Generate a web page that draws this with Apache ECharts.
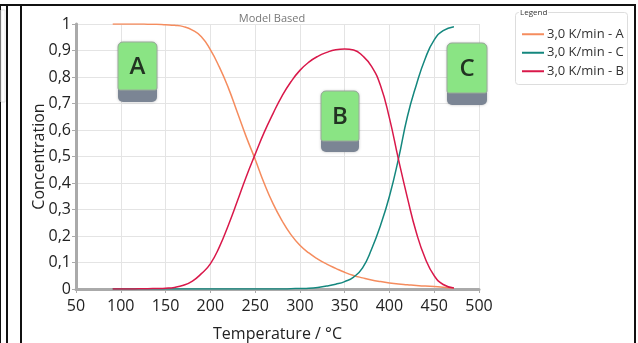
<!DOCTYPE html>
<html>
<head>
<meta charset="utf-8">
<script src="https://cdn.jsdelivr.net/npm/echarts@6/dist/echarts.min.js"></script>
<style>
html,body{margin:0;padding:0;background:#fff;}
#c{width:638px;height:343px;}
</style>
</head>
<body>
<div id="c"></div>
<script>
// Temperature (°C)
const temps = [91,100,110,120,130,140,150,160,170,180,190,200,210,220,230,240,250,260,270,280,290,300,310,320,330,340,350,360,370,380,390,400,410,420,430,440,450,460,472];
// Concentration of A
const concA = [1,1,1,1,0.9995,0.999,0.997,0.995,0.99,0.977,0.952,0.903,0.838,0.76,0.668,0.575,0.49,0.40,0.322,0.258,0.205,0.165,0.136,0.113,0.094,0.078,0.063,0.051,0.042,0.034,0.028,0.023,0.019,0.016,0.013,0.011,0.009,0.007,0.004];
// Concentration of B
const concB = [0,0,0,0.0005,0.001,0.002,0.003,0.006,0.014,0.03,0.058,0.095,0.158,0.24,0.33,0.423,0.508,0.59,0.662,0.728,0.782,0.825,0.856,0.878,0.893,0.903,0.906,0.902,0.88,0.84,0.768,0.645,0.49,0.345,0.213,0.115,0.05,0.017,0.004];
// Concentration of C
const concC = [0,0,0,0,0,0,0,0,0,0,0,0,0,0,0,0,0,0,0,0,0.001,0.002,0.003,0.006,0.011,0.018,0.028,0.045,0.08,0.15,0.24,0.35,0.49,0.65,0.77,0.87,0.94,0.975,0.99];
const seriesNames = ['3,0 K/min - A','3,0 K/min - C','3,0 K/min - B'];
const yTickLabels = ['0','0,1','0,2','0,3','0,4','0,5','0,6','0,7','0,8','0,9','1'];
const xTickLabels = ['50','100','150','200','250','300','350','400','450','500'];
const boxLabels = ['A','B','C'];

const pair = (ys) => temps.map((t,i)=>[t, ys[i]]);
const font = "'Open Sans', 'Noto Sans', sans-serif";

function markBox(x, y, w, h, band, letter){
  return {
    type:'group', x:x, y:y, z:100, children:[
      {type:'rect', z:100, shape:{x:0,y:0,width:w,height:h,r:5}, style:{fill:'#7b8594', shadowBlur:3, shadowColor:'rgba(0,0,0,0.25)'}},
      {type:'rect', z:101, shape:{x:0,y:0,width:w,height:band,r:[5,5,2,2]}, style:{fill:'#8ae484', stroke:'#9aaa9a', lineWidth:1}},
      {type:'text', z:102, x:w/2, y:band/2+1, style:{text:letter, fill:'#223322', font:"600 24px "+font, align:'center', verticalAlign:'middle'}}
    ]
  };
}

const chart = echarts.init(document.getElementById('c'), null, {renderer:'canvas'});
chart.setOption({
  animation:false,
  backgroundColor:'#fff',
  title:{text:'Model Based', left:267, top:8, textAlign:'center', textStyle:{fontFamily:font, fontSize:11, fontWeight:'normal', color:'#777'}},
  grid:{left:76, right:159, top:24, bottom:54, containLabel:false, outerBoundsMode:'none'},
  legend:{
    orient:'vertical', left:517, top:20, itemWidth:22, itemHeight:2, itemGap:0, icon:'rect',
    data:seriesNames,
    textStyle:{fontFamily:font, fontSize:13, color:'#333', lineHeight:18.5, padding:[0,0,0,-2]}
  },
  xAxis:{
    type:'value', min:50, max:500, interval:50,
    name:'Temperature / °C', nameLocation:'middle', nameGap:37, nameMoveOverlap:false,
    nameTextStyle:{fontFamily:font, fontSize:16, color:'#222'},
    axisLine:{show:true, lineStyle:{color:'#aaaaaa', width:3}},
    axisTick:{show:true, length:4, lineStyle:{color:'#aaaaaa'}},
    axisLabel:{fontFamily:font, fontSize:16, color:'#222', margin:9, formatter:(v)=>xTickLabels[Math.round((v-50)/50)]},
    splitLine:{show:true, lineStyle:{color:'#e4e4e4', width:1}}
  },
  yAxis:{
    type:'value', min:0, max:1, interval:0.1,
    name:'Concentration', nameLocation:'middle', nameGap:29, nameMoveOverlap:false,
    nameTextStyle:{fontFamily:font, fontSize:16, color:'#222'},
    axisLine:{show:true, lineStyle:{color:'#aaaaaa', width:3}},
    axisTick:{show:true, length:4, lineStyle:{color:'#aaaaaa'}},
    axisLabel:{fontFamily:font, fontSize:16, color:'#222', margin:5, formatter:(v)=>yTickLabels[Math.round(v*10)]},
    splitLine:{show:true, lineStyle:{color:'#e4e4e4', width:1}}
  },
  series:[
    {name:seriesNames[0], type:'line', data:pair(concA), smooth:true, showSymbol:false, symbol:'none', lineStyle:{color:'#f58c5e', width:1.5}, itemStyle:{color:'#f58c5e'}},
    {name:seriesNames[1], type:'line', data:pair(concC), smooth:true, showSymbol:false, symbol:'none', lineStyle:{color:'#14877e', width:1.5}, itemStyle:{color:'#14877e'}},
    {name:seriesNames[2], type:'line', data:pair(concB), smooth:true, showSymbol:false, symbol:'none', lineStyle:{color:'#d9184a', width:1.5}, itemStyle:{color:'#d9184a'}}
  ],
  graphic:[
    {type:'line', shape:{x1:0.5,y1:5,x2:0.5,y2:343}, style:{stroke:'#111', lineWidth:1}},
    {type:'line', shape:{x1:7,y1:5,x2:7,y2:343}, style:{stroke:'#111', lineWidth:2}},
    {type:'line', shape:{x1:21,y1:5,x2:21,y2:343}, style:{stroke:'#111', lineWidth:2}},
    {type:'line', shape:{x1:0,y1:5,x2:636,y2:5}, style:{stroke:'#111', lineWidth:2}},
    {type:'line', shape:{x1:635,y1:5,x2:635,y2:343}, style:{stroke:'#111', lineWidth:2}},
    {type:'rect', shape:{x:1,y:10,width:4,height:92}, style:{fill:'none', stroke:'#e4e4e4', lineWidth:1}},
    {type:'rect', shape:{x:515.5,y:12.5,width:112,height:72,r:3}, style:{fill:'none', stroke:'#dddddd', lineWidth:1}},
    {type:'text', x:519, y:13, style:{text:'Legend', font:"8px "+font, fill:'#333', backgroundColor:'#fff', padding:[0,1], verticalAlign:'middle'}},
    markBox(118, 42, 39, 60, 48, boxLabels[0]),
    markBox(321, 91, 38, 61, 50, boxLabels[1]),
    markBox(447, 43, 40, 62, 50, boxLabels[2])
  ]
});
</script>
</body>
</html>
